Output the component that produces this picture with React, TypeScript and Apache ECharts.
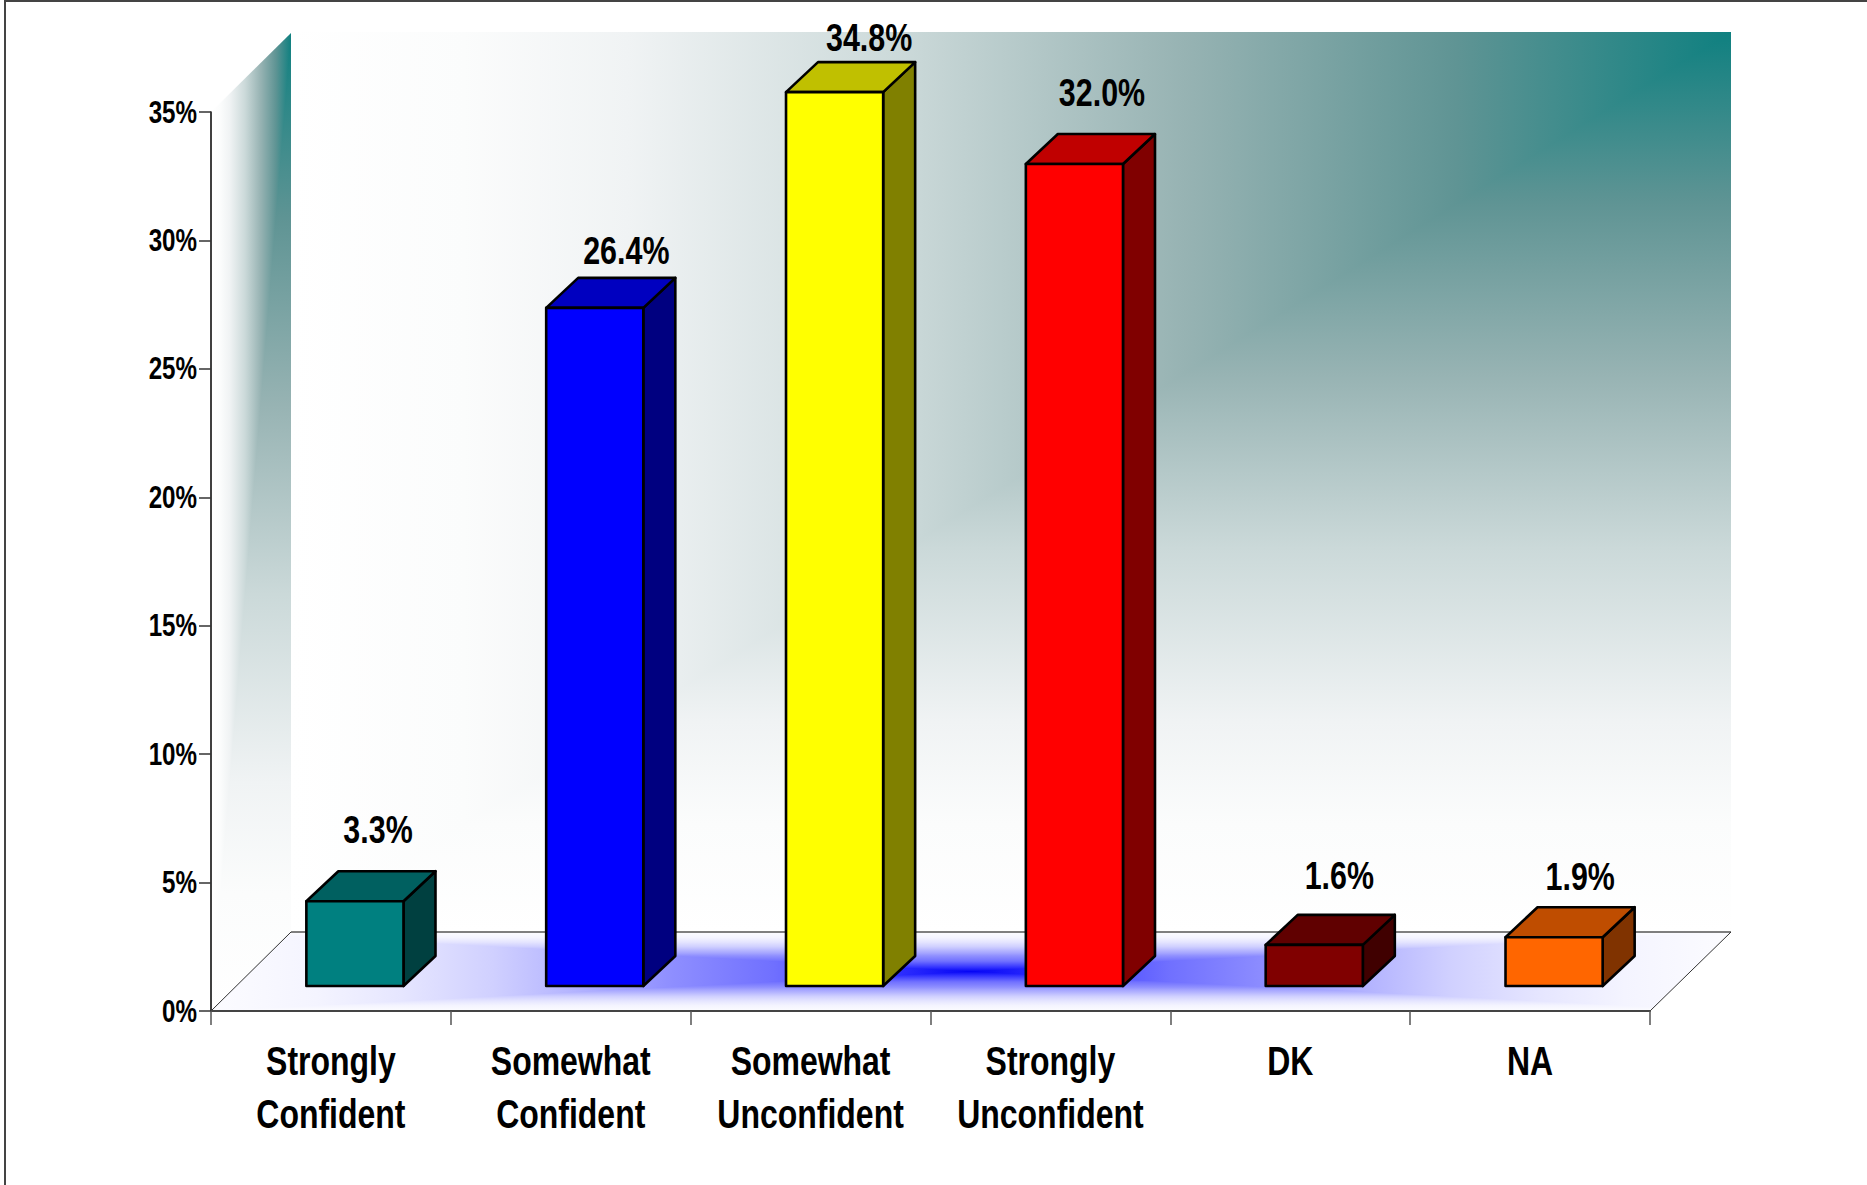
import React, { useEffect, useRef } from "react";
import * as echarts from "echarts";

const categories = [
  "Strongly\nConfident",
  "Somewhat\nConfident",
  "Somewhat\nUnconfident",
  "Strongly\nUnconfident",
  "DK",
  "NA",
];
const values = [3.3, 26.4, 34.8, 32.0, 1.6, 1.9];
const yTicks = { min: 0, max: 35, interval: 5 };

const frontColors = ["#008080", "#0000ff", "#ffff00", "#ff0000", "#800000", "#ff6600"];
const topColors = ["#006060", "#0000c0", "#c0c000", "#c00000", "#600000", "#bf4d00"];
const sideColors = ["#004040", "#000080", "#808000", "#800000", "#400000", "#803300"];

// label placement relative to the bar's front-top-left corner
const labelDx = [37, 37, 40, 33, 39, 40];
const labelRise = [59, 44, 42, 58, 56, 48];

const FONT = '"Liberation Sans", Arial, sans-serif';
const TEXT_SQUEEZE = 0.78;

const tealStops = [
  [0, "#0f8080"],
  [0.19, "#5f9494"],
  [0.38, "#97b3b3"],
  [0.574, "#cbd9d9"],
  [0.766, "#f0f3f4"],
  [0.88, "#fbfcfc"],
  [1, "#ffffff"],
] as [number, string][];

const blueStops = [
  [0, "#0505f5"],
  [0.1, "#3030ff"],
  [0.26, "#7070ff"],
  [0.4, "#9090ff"],
  [0.45, "#a0a0ff"],
  [0.63, "#d0d0ff"],
  [0.75, "#e6e6ff"],
  [0.86, "#f4f4ff"],
  [1, "#fcfcff"],
] as [number, string][];

const stops = (s: [number, string][]) => s.map(([offset, color]) => ({ offset, color }));
const grad = (x1: number, y1: number, x2: number, y2: number, s: [number, string][]) =>
  new echarts.graphic.LinearGradient(x1, y1, x2, y2, stops(s), true);

function twoSided(cx: number, x0: number, x1: number) {
  const w = x1 - x0;
  const c = (cx - x0) / w;
  const left = [...blueStops].reverse().map(([o, col]) => ({ offset: c - o * c, color: col }));
  const right = blueStops.map(([o, col]) => ({ offset: c + o * (1 - c), color: col }));
  return new echarts.graphic.LinearGradient(x0, 0, x1, 0, [...left, ...right], true);
}

function backdrop() {
  const z = -10;
  const poly = (points: number[][], fill: any) => ({
    type: "polygon",
    z,
    silent: true,
    shape: { points },
    style: { fill, stroke: null },
  });
  const line = (x1: number, y1: number, x2: number, y2: number, stroke: string, lineWidth: number) => ({
    type: "line",
    z: z + 1,
    silent: true,
    shape: { x1, y1, x2, y2 },
    style: { stroke, lineWidth },
  });
  return [
    // back wall
    poly([[291, 32], [1731, 32], [1731, 932], [291, 932]], grad(1731, 0, 291, 0, tealStops)),
    poly([[1731, 32], [1731, 932], [291, 932]], grad(0, 32, 0, 932, tealStops)),
    // side wall
    poly([[211, 112], [291, 33], [291, 932], [211, 1011]], grad(291, 0, 211, 0, tealStops)),
    poly([[291, 33], [291, 932], [211, 1011]], grad(0, 33, 0, 1011, tealStops)),
    // floor
    poly([[211, 1011], [1650, 1011], [1731, 932], [291, 932]], twoSided(971, 211, 1731)),
    poly([[291, 932], [1731, 932], [971, 971.5], [287, 936]], grad(0, 971.5, 0, 932, blueStops)),
    poly([[211, 1011], [1650, 1011], [1654, 1007], [971, 971.5]], grad(0, 971.5, 0, 1011, blueStops)),
    line(291, 932, 1731, 932, "#555555", 1.5),
    line(211, 1011, 291, 932, "#333333", 1),
    line(1650, 1011, 1731, 932, "#333333", 1),
    // page frame
    {
      type: "polyline",
      z: z + 1,
      silent: true,
      shape: { points: [[5, 1185], [5, 1], [1867, 1]] },
      style: { stroke: "#444444", lineWidth: 2, fill: null },
    },
  ];
}

const OFFSET_X = 24;
const OFFSET_Y = -25;
const DEPTH_X = 32;
const DEPTH_Y = -30;
const BAR_RATIO = 0.405;

function renderBar(params: any, api: any) {
  const i = params.dataIndex;
  const cat = api.value(0);
  const val = api.value(1);
  const top = api.coord([cat, val]);
  const base = api.coord([cat, 0]);
  const w = api.size([1, 0])[0] * BAR_RATIO;
  const l = top[0] - w / 2 + OFFSET_X;
  const r = l + w;
  const t = top[1] + OFFSET_Y;
  const b = base[1] + OFFSET_Y;
  const stroke = { stroke: "#000000", lineWidth: 2.6, lineJoin: "round" };
  return {
    type: "group",
    children: [
      {
        type: "polygon",
        shape: { points: [[r, t], [r + DEPTH_X, t + DEPTH_Y], [r + DEPTH_X, b + DEPTH_Y], [r, b]] },
        style: { fill: sideColors[i], ...stroke },
      },
      {
        type: "polygon",
        shape: { points: [[l, t], [l + DEPTH_X, t + DEPTH_Y], [r + DEPTH_X, t + DEPTH_Y], [r, t]] },
        style: { fill: topColors[i], ...stroke },
      },
      {
        type: "rect",
        shape: { x: l, y: t, width: w, height: b - t },
        style: { fill: frontColors[i], ...stroke },
      },
      {
        type: "text",
        x: l + labelDx[i],
        y: t - labelRise[i] + 6,
        style: {
          text: `${val.toFixed(1)}%`,
          fill: "#000000",
          font: `bold 39px ${FONT}`,
          align: "left",
          verticalAlign: "bottom",
        },
      },
    ],
  };
}

// No condensed face is installed, so the texts are narrowed horizontally around their anchors.
function squeezeTexts(root: HTMLElement) {
  root.querySelectorAll("svg text").forEach((el) => {
    if (el.getAttribute("data-squeezed")) return;
    const tr = el.getAttribute("transform") || "";
    const x = Number(el.getAttribute("x")) || 0;
    el.setAttribute(
      "transform",
      `${tr} translate(${x} 0) scale(${TEXT_SQUEEZE} 1) translate(${-x} 0)`
    );
    el.setAttribute("data-squeezed", "1");
  });
}

export default function App() {
  const ref = useRef<HTMLDivElement>(null);
  useEffect(() => {
    const chart = echarts.init(ref.current!, undefined, { renderer: "svg" });
    chart.setOption({
      animation: false,
      backgroundColor: "#ffffff",
      graphic: { elements: backdrop() },
      grid: { left: 211, top: 112, width: 1439, height: 899, containLabel: false },
      xAxis: {
        type: "category",
        data: categories,
        z: 1,
        axisLine: { lineStyle: { color: "#444444", width: 2 } },
        axisTick: { show: true, length: 14, lineStyle: { color: "#555555", width: 1.5 } },
        axisLabel: {
          color: "#000000",
          fontFamily: FONT,
          fontWeight: "bold",
          fontSize: 41,
          lineHeight: 53.5,
          margin: 23,
          interval: 0,
        },
        splitLine: { show: false },
      },
      yAxis: {
        type: "value",
        min: yTicks.min,
        max: yTicks.max,
        interval: yTicks.interval,
        z: 1,
        axisLine: { show: true, lineStyle: { color: "#000000", width: 1.5 } },
        axisTick: { show: true, length: 12, lineStyle: { color: "#333333", width: 1.5 } },
        axisLabel: {
          color: "#000000",
          fontFamily: FONT,
          fontWeight: "bold",
          fontSize: 31,
          margin: 14,
          formatter: "{value}%",
        },
        splitLine: { show: false },
      },
      series: [
        {
          type: "custom",
          coordinateSystem: "cartesian2d",
          clip: false,
          z: 5,
          encode: { x: 0, y: 1 },
          data: values.map((v, i) => [i, v]),
          renderItem: renderBar,
        },
      ],
    });
    squeezeTexts(ref.current!);
    const raf = requestAnimationFrame(() => ref.current && squeezeTexts(ref.current));
    return () => {
      cancelAnimationFrame(raf);
      chart.dispose();
    };
  }, []);
  return (
    <div
      ref={ref}
      style={{ position: "absolute", left: 0, top: 0, width: 1867, height: 1185 }}
    />
  );
}
